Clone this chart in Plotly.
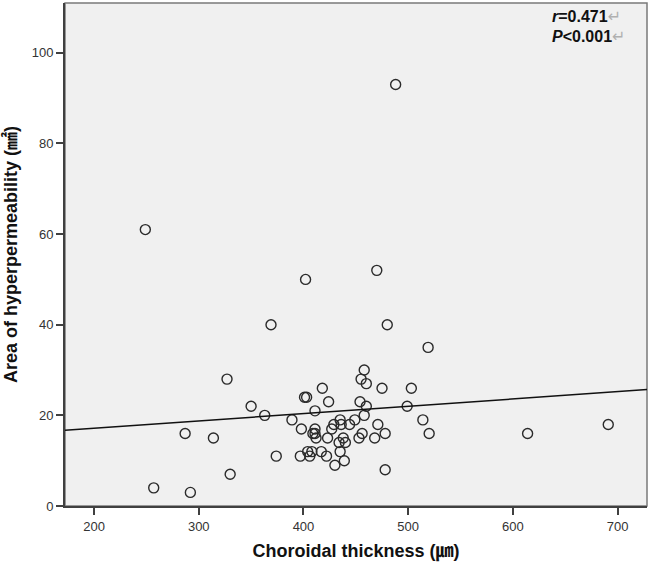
import plotly.graph_objects as go
import numpy as np

# ---- data ----
thickness = [257, 292, 287, 314, 330, 350, 363, 374, 389, 398,
             397, 401, 403, 411, 404, 408, 406, 409, 411, 411,
             412, 417, 422, 424, 423, 427, 429, 430, 435, 436,
             434, 435, 438, 440, 439, 444, 449, 454, 453, 456,
             460, 458, 468, 471, 478, 478, 499, 514, 520, 614,
             691, 327, 369, 418, 455, 458, 460, 475, 503, 480,
             519, 402, 470, 249, 488]
area = [4, 3, 16, 15, 7, 22, 20, 11, 19, 17,
        11, 24, 24, 21, 12, 12, 11, 16, 17, 16,
        15, 12, 11, 23, 15, 17, 18, 9, 19, 18,
        14, 12, 15, 14, 10, 18, 19, 23, 15, 16,
        22, 20, 15, 18, 16, 8, 22, 19, 16, 16,
        18, 28, 40, 26, 28, 30, 27, 26, 26, 40,
        35, 50, 52, 61, 93]

fit_intercept = 13.9
fit_slope = 0.0162

x_ticks = [200, 300, 400, 500, 600, 700]
y_ticks = [0, 20, 40, 60, 80, 100]
x_range = [172.3, 728.0]
y_range = [0, 111]

stat_lines = ["<i>r</i>=0.471", "<i>P</i>&lt;0.001"]

FONT = "Liberation Sans, Arial, DejaVu Sans, Noto Sans CJK SC"

fit_x = np.array(x_range)
fit_y = fit_intercept + fit_slope * fit_x

fig = go.Figure()
fig.add_trace(go.Scatter(
    x=thickness, y=area, mode="markers",
    marker=dict(symbol="circle-open", size=10, color="#2a2a2a",
                line=dict(width=1.4, color="#2a2a2a")),
    showlegend=False, hoverinfo="x+y"))
fig.add_trace(go.Scatter(
    x=fit_x, y=fit_y, mode="lines",
    line=dict(color="#111111", width=1.5),
    showlegend=False, hoverinfo="skip"))

ann_y = [0.973, 0.933]
for txt, yy in zip(stat_lines, ann_y):
    fig.add_annotation(
        xref="paper", yref="paper", x=0.833, y=yy,
        xanchor="left", yanchor="middle", showarrow=False,
        text="<b>" + txt + "</b><span style='color:#b0b0b0'>\u21b5</span>",
        font=dict(family=FONT, size=16, color="#111111"))

fig.add_shape(type="rect", xref="paper", yref="paper", x0=0, x1=1, y0=0, y1=1,
              line=dict(color="#7a7a7a", width=1.5), layer="below")

fig.update_layout(
    width=650, height=567,
    margin=dict(l=65, r=3, t=3, b=60.5, autoexpand=False),
    paper_bgcolor="white", plot_bgcolor="#f0f0f0",
    font=dict(family=FONT, size=13, color="#333333"),
    showlegend=False,
)
fig.update_xaxes(
    range=x_range, tickvals=x_ticks, ticks="outside", ticklen=7,
    tickwidth=1.5, tickcolor="#404040", showgrid=False, zeroline=False,
    showline=True, linecolor="#404040", linewidth=2, mirror=False,
    tickfont=dict(family=FONT, size=13, color="#333333"),
    title=dict(text="<b>Choroidal thickness (\u339b)</b>", standoff=12,
               font=dict(family=FONT, size=18, color="#111111")),
    automargin=False,
)
fig.update_yaxes(
    range=y_range, tickvals=y_ticks, ticks="outside", ticklen=7,
    tickwidth=1.5, tickcolor="#404040", showgrid=False, zeroline=False,
    showline=True, linecolor="#404040", linewidth=2, mirror=False,
    tickfont=dict(family=FONT, size=13, color="#333333"),
    title=dict(text="<b>Area of hyperpermeability (\u339f)</b>", standoff=9,
               font=dict(family=FONT, size=18, color="#111111")),
    automargin=False,
)

fig.write_html("out.html",
               config={"displayModeBar": False},
               post_script="document.body.style.margin='0';document.body.style.overflow='hidden';")
